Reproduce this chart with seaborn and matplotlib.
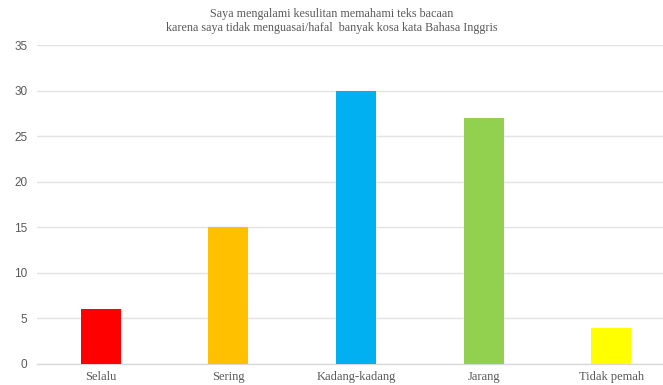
import matplotlib
matplotlib.use("Agg")
import matplotlib.pyplot as plt
import seaborn as sns
import pandas as pd

categories = ["Selalu", "Sering", "Kadang-kadang", "Jarang", "Tidak pemah"]
values = [6, 15, 30, 27, 4]
colors = ["#FF0000", "#FFC000", "#00B0F0", "#92D050", "#FFFF00"]
yticks = [0, 5, 10, 15, 20, 25, 30, 35]
title = "Saya mengalami kesulitan memahami teks bacaan\nkarena saya tidak menguasai/hafal  banyak kosa kata Bahasa Inggris"

sns.set_style("white")
df = pd.DataFrame({"cat": categories, "val": values})

fig = plt.figure(figsize=(6.63, 3.85), dpi=100)
ax = fig.add_axes([37/663, 21/385, 626/663, 319/385])

sns.barplot(data=df, x="cat", y="val", hue="cat", palette=colors, legend=False,
            width=0.313, ax=ax, zorder=3, edgecolor="none", saturation=1)

ax.set_xlim(-0.5, 4.406)
ax.set_ylim(0, 35)
ax.set_yticks(yticks)
ax.yaxis.grid(True, color="#E3E3E3", linewidth=1.0, zorder=0)
ax.set_axisbelow(True)
for s in ["top", "right", "left"]:
    ax.spines[s].set_visible(False)
ax.spines["bottom"].set_color("#D9D9D9")
ax.spines["bottom"].set_linewidth(1.0)
ax.tick_params(axis="both", length=0)
ax.tick_params(axis="y", pad=7, labelsize=8.5, labelcolor="#595959")
ax.tick_params(axis="x", pad=5, labelsize=9, labelcolor="#595959")
for lab in ax.get_xticklabels():
    lab.set_fontfamily("Liberation Serif")
for lab in ax.get_yticklabels():
    lab.set_fontfamily("Liberation Sans")
    lab.set_horizontalalignment("right")
ax.set_xlabel("")
ax.set_ylabel("")

fig.text(0.5, 0.978, title, ha="center", va="top", fontsize=8.75,
         family="Liberation Serif", color="#595959", linespacing=1.2)

fig.savefig("out.png", dpi=100)
